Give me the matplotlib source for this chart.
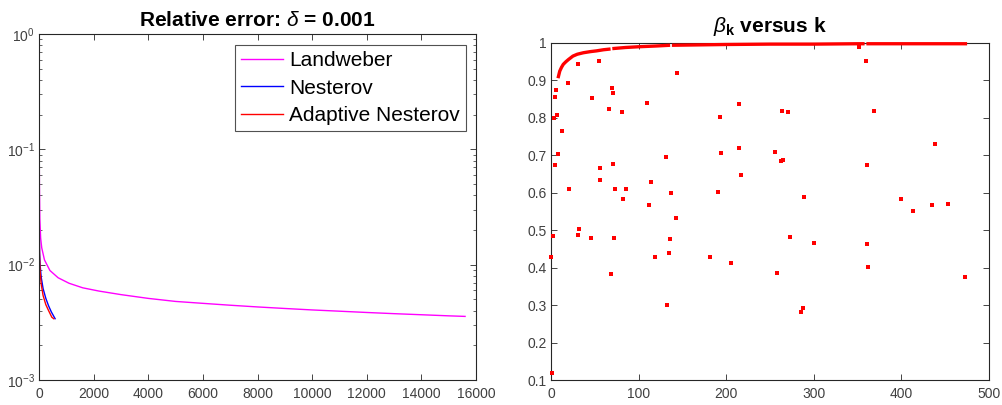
import numpy as np
import matplotlib
matplotlib.use("Agg")
import matplotlib.pyplot as plt
from matplotlib.ticker import LogLocator, NullFormatter

plt.rcParams['font.family'] = ['Liberation Sans', 'DejaVu Sans']
plt.rcParams['mathtext.fontset'] = 'custom'
plt.rcParams['mathtext.rm'] = 'Liberation Sans'
plt.rcParams['mathtext.it'] = 'Liberation Sans:italic'
plt.rcParams['mathtext.bf'] = 'Liberation Sans:bold'

# ---------------- data: left panel (relative error) ----------------
land_k = [0, 3, 8, 15, 30, 60, 100, 200, 400, 700, 1100, 1600, 2200, 3000, 4000,
          5000, 6000, 7000, 8000, 9000, 10000, 11000, 12000, 13000, 14000, 15000, 15600]
land_err = [0.84, 0.3, 0.1, 0.05, 0.025, 0.017, 0.014, 0.011, 0.0089, 0.0077, 0.0069,
            0.0063, 0.0059, 0.0055, 0.0051, 0.0048, 0.00462, 0.00445, 0.0043, 0.00417,
            0.00405, 0.00395, 0.00385, 0.00376, 0.00368, 0.0036, 0.00356]

nest_k = [0, 2, 5, 10, 20, 40, 80, 150, 250, 350, 450, 590]
nest_err = [0.26, 0.1, 0.04, 0.02, 0.013, 0.010, 0.0078, 0.0062, 0.0051, 0.0044, 0.0039, 0.0034]

adapt_k = [0, 2, 5, 10, 20, 40, 80, 150, 250, 350, 470, 540]
adapt_err = [0.18, 0.08, 0.035, 0.018, 0.012, 0.0088, 0.0068, 0.0054, 0.0045, 0.0040, 0.0035, 0.0034]

left_xticks = [0, 2000, 4000, 6000, 8000, 10000, 12000, 14000, 16000]

# ---------------- data: right panel (beta_k) ----------------
beta_curve_k = [8, 10, 12, 14, 17, 20, 25, 30, 37, 45, 52, 60, 68, 69, 70, 75, 85, 100,
                120, 136, 137, 138, 140, 170, 200, 250, 300, 350, 358, 359, 360, 400, 450, 475]
beta_curve = [0.906, 0.925, 0.935, 0.943, 0.950, 0.956, 0.965, 0.970, 0.974, 0.977,
              0.979, 0.982, 0.984, np.nan, 0.985, 0.986, 0.988, 0.990, 0.992, 0.994,
              np.nan, 0.994, 0.994, 0.995, 0.996, 0.997, 0.997, 0.998, 0.998, np.nan,
              0.998, 0.998, 0.998, 0.998]

beta_pts_k = [0, 1.5, 2.7, 3.0, 4.2, 4.9, 5.7, 7.2, 8.3, 12.6, 19.4, 20.5, 30.5, 30.8,
              32.3, 45.3, 47.2, 55.2, 55.9, 56.3, 65.8, 68.1, 69.3, 70.4, 71.1, 72.3,
              73.4, 81.4, 82.2, 85.6, 109.9, 112.2, 114.2, 119.1, 131.3, 132.1, 135.1,
              136.2, 137.3, 142.3, 144.2, 181.5, 190.6, 192.6, 194.1, 205.1, 214.6,
              215.0, 216.9, 256.1, 258.0, 262.6, 263.4, 265.2, 270.2, 272.8, 285.4,
              287.3, 289.2, 300.2, 351.2, 359.2, 360.4, 361.1, 362.2, 369.1, 400.0,
              412.9, 434.6, 438.4, 452.9, 473.0]
beta_pts = [0.429, 0.119, 0.485, 0.800, 0.673, 0.857, 0.874, 0.807, 0.704, 0.766, 0.894,
            0.609, 0.943, 0.486, 0.502, 0.479, 0.854, 0.953, 0.634, 0.666, 0.824, 0.383,
            0.880, 0.866, 0.677, 0.479, 0.609, 0.815, 0.584, 0.609, 0.840, 0.567, 0.628,
            0.428, 0.696, 0.301, 0.438, 0.477, 0.600, 0.532, 0.921, 0.429, 0.601, 0.802,
            0.707, 0.412, 0.836, 0.719, 0.648, 0.710, 0.386, 0.686, 0.818, 0.687, 0.816,
            0.483, 0.281, 0.293, 0.588, 0.467, 0.989, 0.953, 0.462, 0.673, 0.401, 0.819,
            0.583, 0.551, 0.567, 0.730, 0.569, 0.376]

right_yticks = [0.1, 0.2, 0.3, 0.4, 0.5, 0.6, 0.7, 0.8, 0.9, 1.0]
right_yticklabels = ['0.1', '0.2', '0.3', '0.4', '0.5', '0.6', '0.7', '0.8', '0.9', '1']
right_xticks = [0, 100, 200, 300, 400, 500]

# ---------------- figure ----------------
W, H = 1002, 405
fig = plt.figure(figsize=(W / 100, H / 100), dpi=100)

def px_axes(x0, y0, x1, y1):
    return fig.add_axes([x0 / W, 1 - y1 / H, (x1 - x0) / W, (y1 - y0) / H])

axc = '#262626'
tc = '#404040'

# left panel
ax1 = px_axes(39, 34, 476, 380)
ax1.plot(land_k, land_err, color='#ff00ff', lw=1.0, label='Landweber')
ax1.plot(nest_k, nest_err, color='#0000ff', lw=1.0, label='Nesterov')
ax1.plot(adapt_k, adapt_err, color='#ff0000', lw=1.0, label='Adaptive Nesterov')
ax1.set_yscale('log')
ax1.set_xlim(0, 16000)
ax1.set_ylim(1e-3, 1)
ax1.set_xticks(left_xticks)
ax1.set_xticklabels([str(v) for v in left_xticks])
ax1.yaxis.set_major_locator(LogLocator(base=10, numticks=10))
ax1.yaxis.set_minor_locator(LogLocator(base=10, subs=np.arange(2, 10), numticks=10))
ax1.yaxis.set_minor_formatter(NullFormatter())
ax1.set_title(r'Relative error: $\delta$ = 0.001', fontsize=15, fontweight='bold', pad=6)
leg = ax1.legend(loc='upper right', fontsize=15, frameon=True, fancybox=False,
                 edgecolor='#262626', handlelength=2.0, handletextpad=0.3,
                 borderaxespad=0.0, borderpad=0.3, labelspacing=0.4,
                 bbox_to_anchor=(466 / W, 1 - 45 / H), bbox_transform=fig.transFigure)
leg.get_frame().set_linewidth(0.8)

# right panel
ax2 = px_axes(551, 43, 989, 380)
ax2.plot(beta_curve_k, beta_curve, color='#ff0000', lw=2.4, solid_capstyle='butt',
         clip_on=False, zorder=3)
ax2.scatter(beta_pts_k, beta_pts, marker='s', s=5.5, c='#ff0000', linewidths=0,
            clip_on=False, zorder=3)
ax2.set_xlim(0, 500)
ax2.set_ylim(0.1, 1.0)
ax2.set_xticks(right_xticks)
ax2.set_yticks(right_yticks)
ax2.set_yticklabels(right_yticklabels)
ax2.set_title(r'$\mathit{\beta}_{\mathbf{k}}$ versus k', fontsize=15, fontweight='bold', pad=8)

for ax in (ax1, ax2):
    for s in ax.spines.values():
        s.set_color(axc)
        s.set_linewidth(0.8)
    ax.tick_params(which='both', direction='in', top=True, right=True,
                   colors=axc, labelcolor=tc, labelsize=10)
    ax.tick_params(which='major', length=4, width=0.6)
    ax.tick_params(which='minor', length=2, width=0.5)
    ax.tick_params(axis='x', pad=5)
    ax.tick_params(axis='y', pad=3)

fig.savefig('out.png', dpi=100)
